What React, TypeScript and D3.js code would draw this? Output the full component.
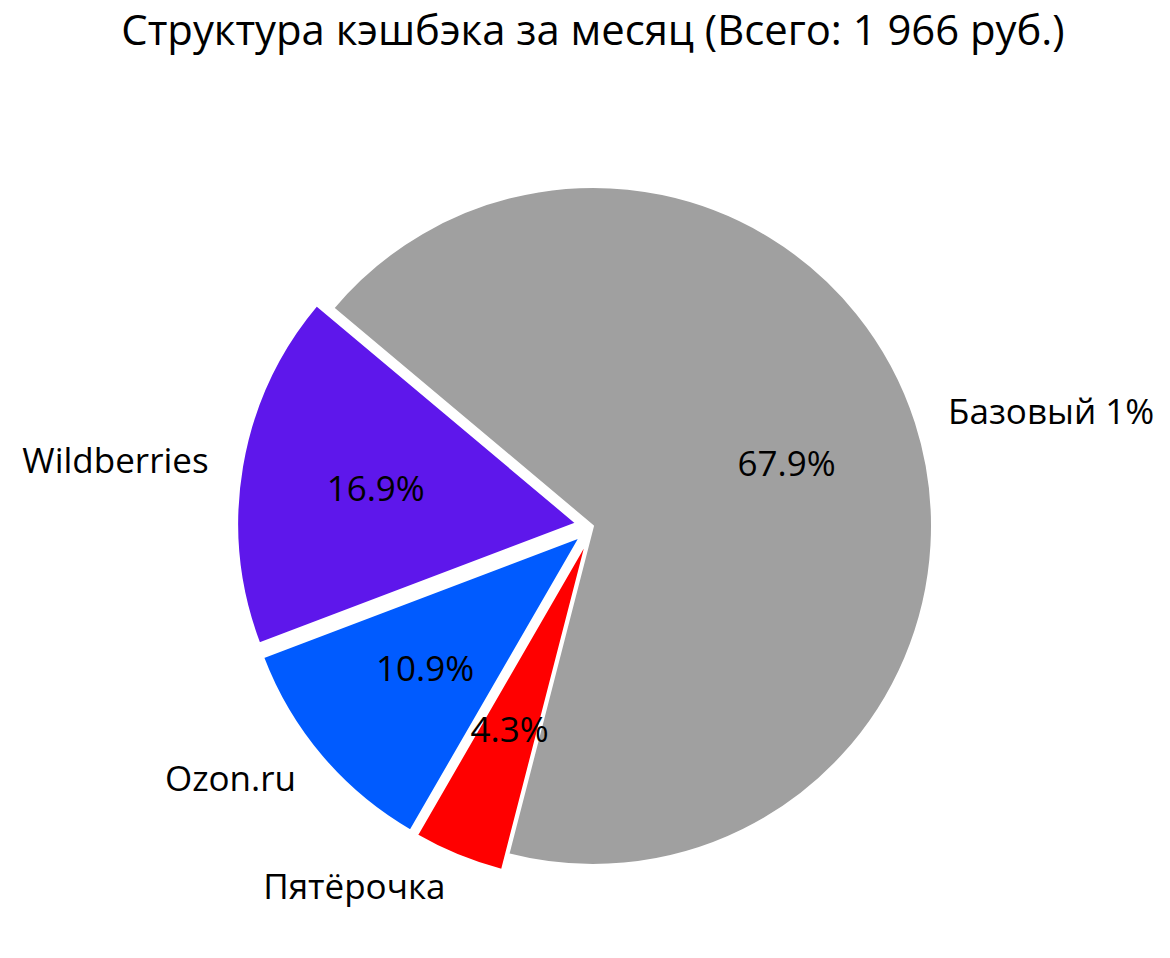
import React from "react";
import * as d3 from "d3";

const labels = ["Базовый 1%", "Пятёрочка", "Ozon.ru", "Wildberries"];
const values = [1335, 85, 214, 332];
const explode = [0, 0.05, 0.05, 0.05];
const colors = ["#A0A0A0", "#FF0000", "#005BFF", "#5E17EB"];
const total = d3.sum(values);
const title = `Структура кэшбэка за месяц (Всего: ${d3.format(",")(total).replace(",", " ")} руб.)`;

const W = 1170;
const H = 958;
const cx = 593;
const cy = 526;
const R = 339;
const FONT = "'Open Sans', sans-serif";

export default function App() {
  const pie = d3
    .pie<number>()
    .sort(null)
    .startAngle((-50 * Math.PI) / 180)
    .endAngle((-50 * Math.PI) / 180 + 2 * Math.PI);
  const arcs = pie(values);
  const arc = d3.arc<d3.PieArcDatum<number>>().innerRadius(0).outerRadius(R);

  return (
    <svg width={W} height={H} style={{ position: "absolute", left: 0, top: 0, background: "#fff" }}>
      <text x={cx} y={45} textAnchor="middle" fontFamily={FONT} fontSize={41.8} fill="#000">
        {title}
      </text>
      {arcs.map((a, i) => {
        const mid = (a.startAngle + a.endAngle) / 2;
        const ox = Math.sin(mid) * R * explode[i];
        const oy = -Math.cos(mid) * R * explode[i];
        return (
          <g key={labels[i]} transform={`translate(${cx + ox},${cy + oy})`}>
            <path d={arc(a) ?? ""} fill={colors[i]} stroke="#fff" strokeWidth={2} strokeLinejoin="round" />
          </g>
        );
      })}
      {arcs.map((a, i) => {
        const mid = (a.startAngle + a.endAngle) / 2;
        const ox = cx + Math.sin(mid) * R * explode[i];
        const oy = cy - Math.cos(mid) * R * explode[i];
        const lx = ox + Math.sin(mid) * R * 1.1;
        const ly = oy - Math.cos(mid) * R * 1.1;
        const px = ox + Math.sin(mid) * R * 0.6;
        const py = oy - Math.cos(mid) * R * 0.6;
        const pct = ((values[i] / total) * 100).toFixed(1) + "%";
        return (
          <g key={"t" + labels[i]}>
            <text x={lx} y={ly} dy="0.35em" textAnchor={Math.sin(mid) < 0 ? "end" : "start"} fontFamily={FONT} fontSize={35} fill="#000">
              {labels[i]}
            </text>
            <text x={px} y={py} dy="0.35em" textAnchor="middle" fontFamily={FONT} fontSize={35} fill="#000">
              {pct}
            </text>
          </g>
        );
      })}
    </svg>
  );
}
